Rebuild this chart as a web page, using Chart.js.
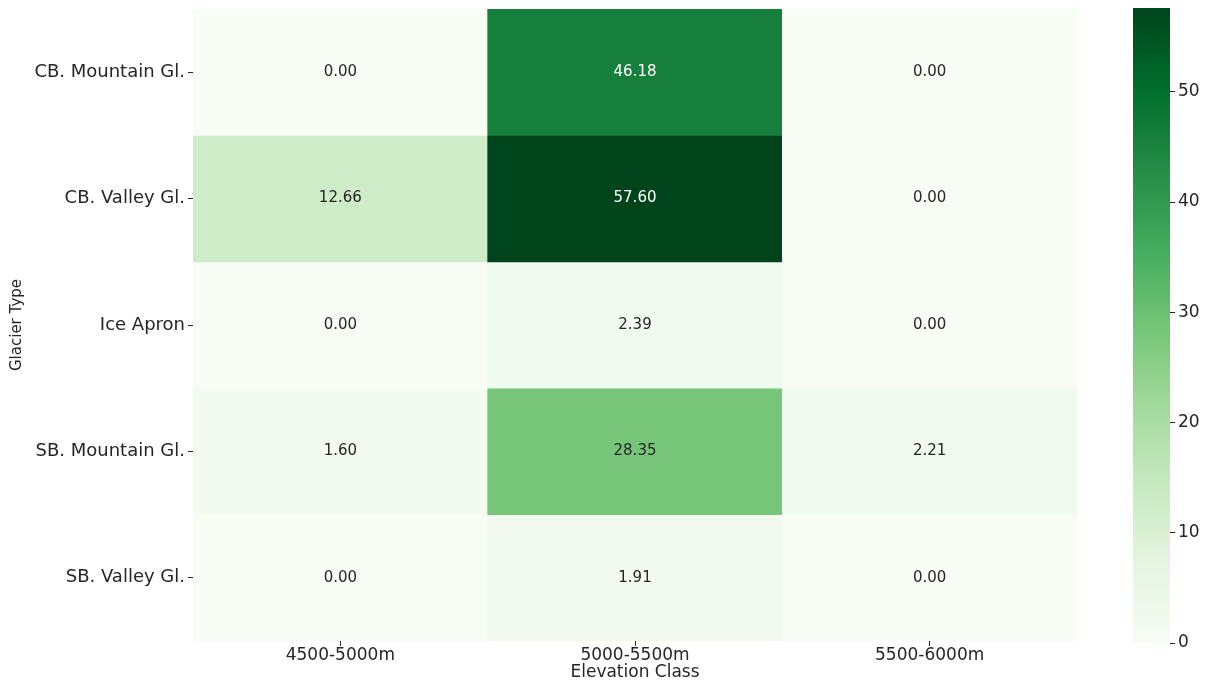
<!DOCTYPE html>
<html>
<head>
<meta charset="utf-8">
<script src="https://cdn.jsdelivr.net/npm/chart.js@4.4.1/dist/chart.umd.min.js"></script>
<style>
    html, body { margin: 0; padding: 0; background: #ffffff; }
    #wrap { position: relative; width: 1211px; height: 683px; }
    #heat-box { position: absolute; left: 0; top: 0; width: 1090px; height: 683px; }
    #bar-box { position: absolute; left: 1133px; top: 0; width: 78px; height: 683px; }
</style>
</head>
<body>
<div id="wrap">
    <div id="heat-box"><canvas id="heatmap"></canvas></div>
    <div id="bar-box"><canvas id="colorbar"></canvas></div>
</div>
<script>
const glacierTypes = ['CB. Mountain Gl.', 'CB. Valley Gl.', 'Ice Apron', 'SB. Mountain Gl.', 'SB. Valley Gl.'];
const elevationClasses = ['4500-5000m', '5000-5500m', '5500-6000m'];

const cbMountain = [0.00, 46.18, 0.00];
const cbValley = [12.66, 57.60, 0.00];
const iceApron = [0.00, 2.39, 0.00];
const sbMountain = [1.60, 28.35, 2.21];
const sbValley = [0.00, 1.91, 0.00];
const rows = [cbMountain, cbValley, iceApron, sbMountain, sbValley];

const colorbarTicks = [0, 10, 20, 30, 40, 50];
const vmin = 0;
const vmax = 57.60;

// matplotlib "Greens"
const greens = ['#f7fcf5', '#e5f5e0', '#c7e9c0', '#a1d99b', '#74c476', '#41ab5d', '#238b45', '#006d2c', '#00441b'];

const textDark = '#262626';

Chart.defaults.font.family = '"DejaVu Sans", sans-serif';
Chart.defaults.color = textDark;
Chart.defaults.animation = false;

function hexToRgb(h) {
    return [parseInt(h.substr(1, 2), 16), parseInt(h.substr(3, 2), 16), parseInt(h.substr(5, 2), 16)];
}

function greenRgb(v) {
    let t = (v - vmin) / (vmax - vmin);
    t = Math.min(1, Math.max(0, t));
    const pos = t * (greens.length - 1);
    const i = Math.min(greens.length - 2, Math.floor(pos));
    const f = pos - i;
    const a = hexToRgb(greens[i]);
    const b = hexToRgb(greens[i + 1]);
    return a.map((c, k) => Math.round(c + (b[k] - c) * f));
}

function greenColor(v) {
    const c = greenRgb(v);
    return `rgb(${c[0]}, ${c[1]}, ${c[2]})`;
}

function luminance(rgb) {
    const lin = rgb.map(c => {
        c = c / 255;
        return c <= 0.03928 ? c / 12.92 : Math.pow((c + 0.055) / 1.055, 2.4);
    });
    return 0.2126 * lin[0] + 0.7152 * lin[1] + 0.0722 * lin[2];
}

// seaborn-style value labels in the middle of each cell
const cellLabels = {
    id: 'cellLabels',
    afterDatasetsDraw(chart) {
        const ctx = chart.ctx;
        ctx.save();
        ctx.font = '15px "DejaVu Sans"';
        ctx.textAlign = 'center';
        ctx.textBaseline = 'middle';
        rows.forEach((row, r) => {
            const meta = chart.getDatasetMeta(r);
            meta.data.forEach((bar, c) => {
                const v = row[c];
                ctx.fillStyle = luminance(greenRgb(v)) > 0.408 ? textDark : '#ffffff';
                ctx.fillText(v.toFixed(2), bar.x, (bar.y + bar.base) / 2);
            });
        });
        ctx.restore();
    }
};

function initHeatmap() {
    const ctx = document.getElementById('heatmap').getContext('2d');

    new Chart(ctx, {
        type: 'bar',
        data: {
            labels: elevationClasses,
            datasets: rows.map((row, r) => ({
                data: row.map(() => [r, r + 1]),
                backgroundColor: row.map(greenColor),
                borderWidth: 0,
                grouped: false,
                barPercentage: 1,
                categoryPercentage: 1
            }))
        },
        options: {
            responsive: true,
            maintainAspectRatio: false,
            layout: {
                padding: { top: 9, right: 13, left: 0, bottom: 0 }
            },
            scales: {
                x: {
                    type: 'category',
                    grid: {
                        drawOnChartArea: false,
                        offset: false,
                        tickLength: 5,
                        color: textDark
                    },
                    border: { display: false },
                    ticks: {
                        font: { size: 17 },
                        padding: -1,
                        color: textDark
                    },
                    title: {
                        display: true,
                        text: 'Elevation Class',
                        font: { size: 17 },
                        padding: { top: 0, bottom: 0 },
                        color: textDark
                    },
                    afterFit: s => { s.height = 42; }
                },
                y: {
                    type: 'linear',
                    min: 0,
                    max: 5,
                    reverse: true,
                    afterBuildTicks: s => {
                        s.ticks = glacierTypes.map((_, i) => ({ value: i + 0.5 }));
                    },
                    ticks: {
                        callback: (v, i) => glacierTypes[i],
                        font: { size: 18 },
                        padding: 3,
                        color: textDark
                    },
                    grid: {
                        drawOnChartArea: false,
                        tickLength: 5,
                        color: textDark
                    },
                    border: { display: false },
                    title: {
                        display: true,
                        text: 'Glacier Type',
                        font: { size: 15 },
                        padding: { top: 8, bottom: 0 },
                        color: textDark
                    },
                    afterFit: s => {
                        s.width = 193;
                        s.paddingTop = 0;
                        s.paddingBottom = 0;
                    }
                }
            },
            plugins: {
                legend: { display: false },
                tooltip: { enabled: false }
            }
        },
        plugins: [cellLabels]
    });
}

function initColorbar() {
    const ctx = document.getElementById('colorbar').getContext('2d');

    new Chart(ctx, {
        type: 'bar',
        data: {
            labels: [''],
            datasets: [{
                data: [[vmin, vmax]],
                backgroundColor: (c) => {
                    const chart = c.chart;
                    if (!chart.chartArea) return greens[4];
                    const y = chart.scales.y;
                    const g = chart.ctx.createLinearGradient(0, y.getPixelForValue(vmin), 0, y.getPixelForValue(vmax));
                    greens.forEach((col, i) => g.addColorStop(i / (greens.length - 1), col));
                    return g;
                },
                borderWidth: 0,
                barPercentage: 1,
                categoryPercentage: 1
            }]
        },
        options: {
            responsive: true,
            maintainAspectRatio: false,
            layout: {
                padding: { top: 8, right: 0, left: 0, bottom: 40 }
            },
            scales: {
                x: { display: false },
                y: {
                    position: 'right',
                    min: vmin,
                    max: vmax,
                    afterBuildTicks: s => {
                        s.ticks = colorbarTicks.map(v => ({ value: v }));
                    },
                    ticks: {
                        font: { size: 17 },
                        padding: 3,
                        color: textDark
                    },
                    grid: {
                        drawOnChartArea: false,
                        tickLength: 5,
                        color: textDark
                    },
                    border: { display: false },
                    afterFit: s => {
                        s.width = 41;
                        s.paddingTop = 0;
                        s.paddingBottom = 0;
                    }
                }
            },
            plugins: {
                legend: { display: false },
                tooltip: { enabled: false }
            }
        }
    });
}

initHeatmap();
initColorbar();
</script>
</body>
</html>
